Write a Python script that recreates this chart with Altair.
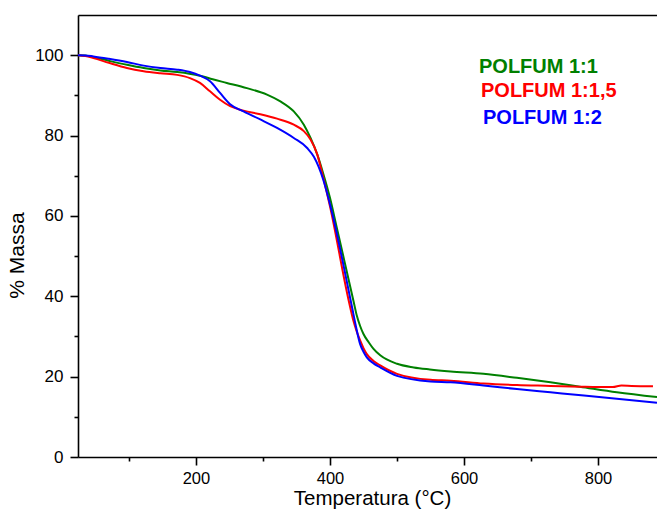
import altair as alt
import pandas as pd

series_names = ["POLFUM 1:1", "POLFUM 1:1,5", "POLFUM 1:2"]
series_colors = ["#008000", "#ff0000", "#0000ff"]

# POLFUM 1:1 (green)
temp_11 = [24, 35, 47, 70, 97, 122, 147, 172, 190, 206, 225, 246, 276, 306, 326, 346, 361, 371,
           381, 390, 400, 410, 420, 435, 440, 445, 450, 458, 465, 475, 500, 525, 549, 580, 629,
           679, 729, 773, 828, 888]
mass_11 = [100, 99.9, 99.5, 98.6, 97.6, 96.8, 96.2, 95.8, 95.4, 94.9, 94.0, 93.1, 91.8, 90.2,
           88.5, 86.0, 82.7, 79.4, 75.3, 70.5, 64.5, 57.2, 49.9, 38.9, 35.2, 32.6, 30.6, 28.5,
           26.9, 25.3, 23.2, 22.3, 21.8, 21.3, 20.7, 19.7, 18.6, 17.5, 16.1, 14.9]

# POLFUM 1:1,5 (red)
temp_115 = [24, 35, 47, 70, 97, 122, 147, 172, 191, 206, 221, 236, 251, 271, 296, 321, 346, 361,
            371, 381, 390, 400, 428, 435, 440, 445, 450, 455, 465, 475, 500, 550, 580, 629, 679,
            729, 773, 800, 822, 835, 850, 882]
mass_115 = [100, 99.8, 99.3, 98.1, 96.8, 96.0, 95.5, 95.1, 94.3, 93.1, 91.0, 88.9, 87.3, 86.2,
            85.3, 84.2, 82.7, 81.1, 79.0, 75.3, 69.5, 62.4, 38.9, 33.9, 31.2, 29.0, 27.1, 25.6,
            23.9, 22.8, 20.7, 19.2, 19.0, 18.3, 17.9, 17.7, 17.5, 17.4, 17.4, 17.8, 17.7, 17.6]

# POLFUM 1:2 (blue)
temp_12 = [24, 35, 47, 70, 97, 122, 147, 172, 191, 206, 221, 236, 251, 271, 296, 321, 346, 366,
           376, 390, 400, 433, 438, 445, 450, 455, 465, 475, 500, 550, 580, 629, 679, 729, 779,
           828, 888]
mass_12 = [100, 99.95, 99.7, 99.1, 98.3, 97.4, 96.8, 96.4, 95.8, 94.9, 93.5, 90.6, 87.8, 86.0,
           84.0, 81.9, 79.4, 76.9, 74.7, 69.0, 62.9, 37.2, 33.1, 28.1, 26.2, 24.8, 23.3, 22.3,
           20.2, 18.8, 18.6, 17.8, 16.9, 16.1, 15.3, 14.5, 13.5]

x_ticks = [100, 200, 300, 400, 500, 600, 700, 800]
y_ticks = [0, 10, 20, 30, 40, 50, 60, 70, 80, 90, 100]

rows = []
for name, ts, ms in zip(series_names, [temp_11, temp_115, temp_12], [mass_11, mass_115, mass_12]):
    for t, m in zip(ts, ms):
        rows.append({"serie": name, "T": t, "M": m})
df = pd.DataFrame(rows)

W, H = 579, 442
FONT = "Liberation Sans"

x_scale = alt.Scale(domain=[24, 888], nice=False, zero=False)
y_scale = alt.Scale(domain=[0, 110], nice=False, zero=False)

x_axis = alt.Axis(
    values=x_ticks,
    labelExpr="datum.value % 200 === 0 ? datum.label : ''",
    tickSize={"condition": {"test": "datum.value % 200 === 0", "value": 8}, "value": 4},
    tickColor="black", tickWidth=1.6, domainColor="black", domainWidth=1.6,
    labelFontSize=16.5, labelColor="black", labelPadding=5, labelFont=FONT,
    titleFontSize=20.5, titleFontWeight="normal", titleColor="black", titleFont=FONT,
    titleX=294, titleY=31, grid=False,
)
y_axis = alt.Axis(
    values=y_ticks,
    labelExpr="datum.value % 20 === 0 ? datum.label : ''",
    tickSize={"condition": {"test": "datum.value % 20 === 0", "value": 8}, "value": 4},
    tickColor="black", tickWidth=1.6, domainColor="black", domainWidth=1.6,
    labelFontSize=17, labelColor="black", labelPadding=7, labelFont=FONT,
    titleFontSize=21, titleFontWeight="normal", titleColor="black", titleFont=FONT,
    titleY=240, titlePadding=7, grid=False,
)

lines = alt.Chart(df).mark_line(strokeWidth=2, interpolate="monotone", clip=True).encode(
    x=alt.X("T:Q", scale=x_scale, axis=x_axis, title="Temperatura (°C)"),
    y=alt.Y("M:Q", scale=y_scale, axis=y_axis, title="% Massa"),
    color=alt.Color("serie:N", scale=alt.Scale(domain=series_names, range=series_colors), legend=None),
)

top_axis = alt.Chart(df).mark_rule(opacity=0).encode(
    x=alt.X("T:Q", scale=x_scale,
            axis=alt.Axis(orient="top", labels=False, ticks=False, title=None, grid=False,
                          domainColor="black", domainWidth=1.6)),
)

legend_x = [401, 403, 405]
legend_y = [58, 82, 109]
legend_layers = []
for name, col, lx, ly in zip(series_names, series_colors, legend_x, legend_y):
    legend_layers.append(
        alt.Chart(pd.DataFrame({"label": [name]})).mark_text(
            align="left", baseline="alphabetic", fontSize=20, fontWeight="bold",
            font=FONT, color=col,
        ).encode(x=alt.value(lx), y=alt.value(ly), text="label:N")
    )

chart = alt.layer(lines, top_axis, *legend_layers).resolve_axis(x="independent").properties(
    width=W, height=H,
    autosize=alt.AutoSizeParams(type="none"),
    padding={"left": 78, "top": 15, "right": 0, "bottom": 52},
).configure_view(stroke=None).configure(font=FONT, background="white")

chart.save("out.html", embed_options={"renderer": "svg", "actions": False})
